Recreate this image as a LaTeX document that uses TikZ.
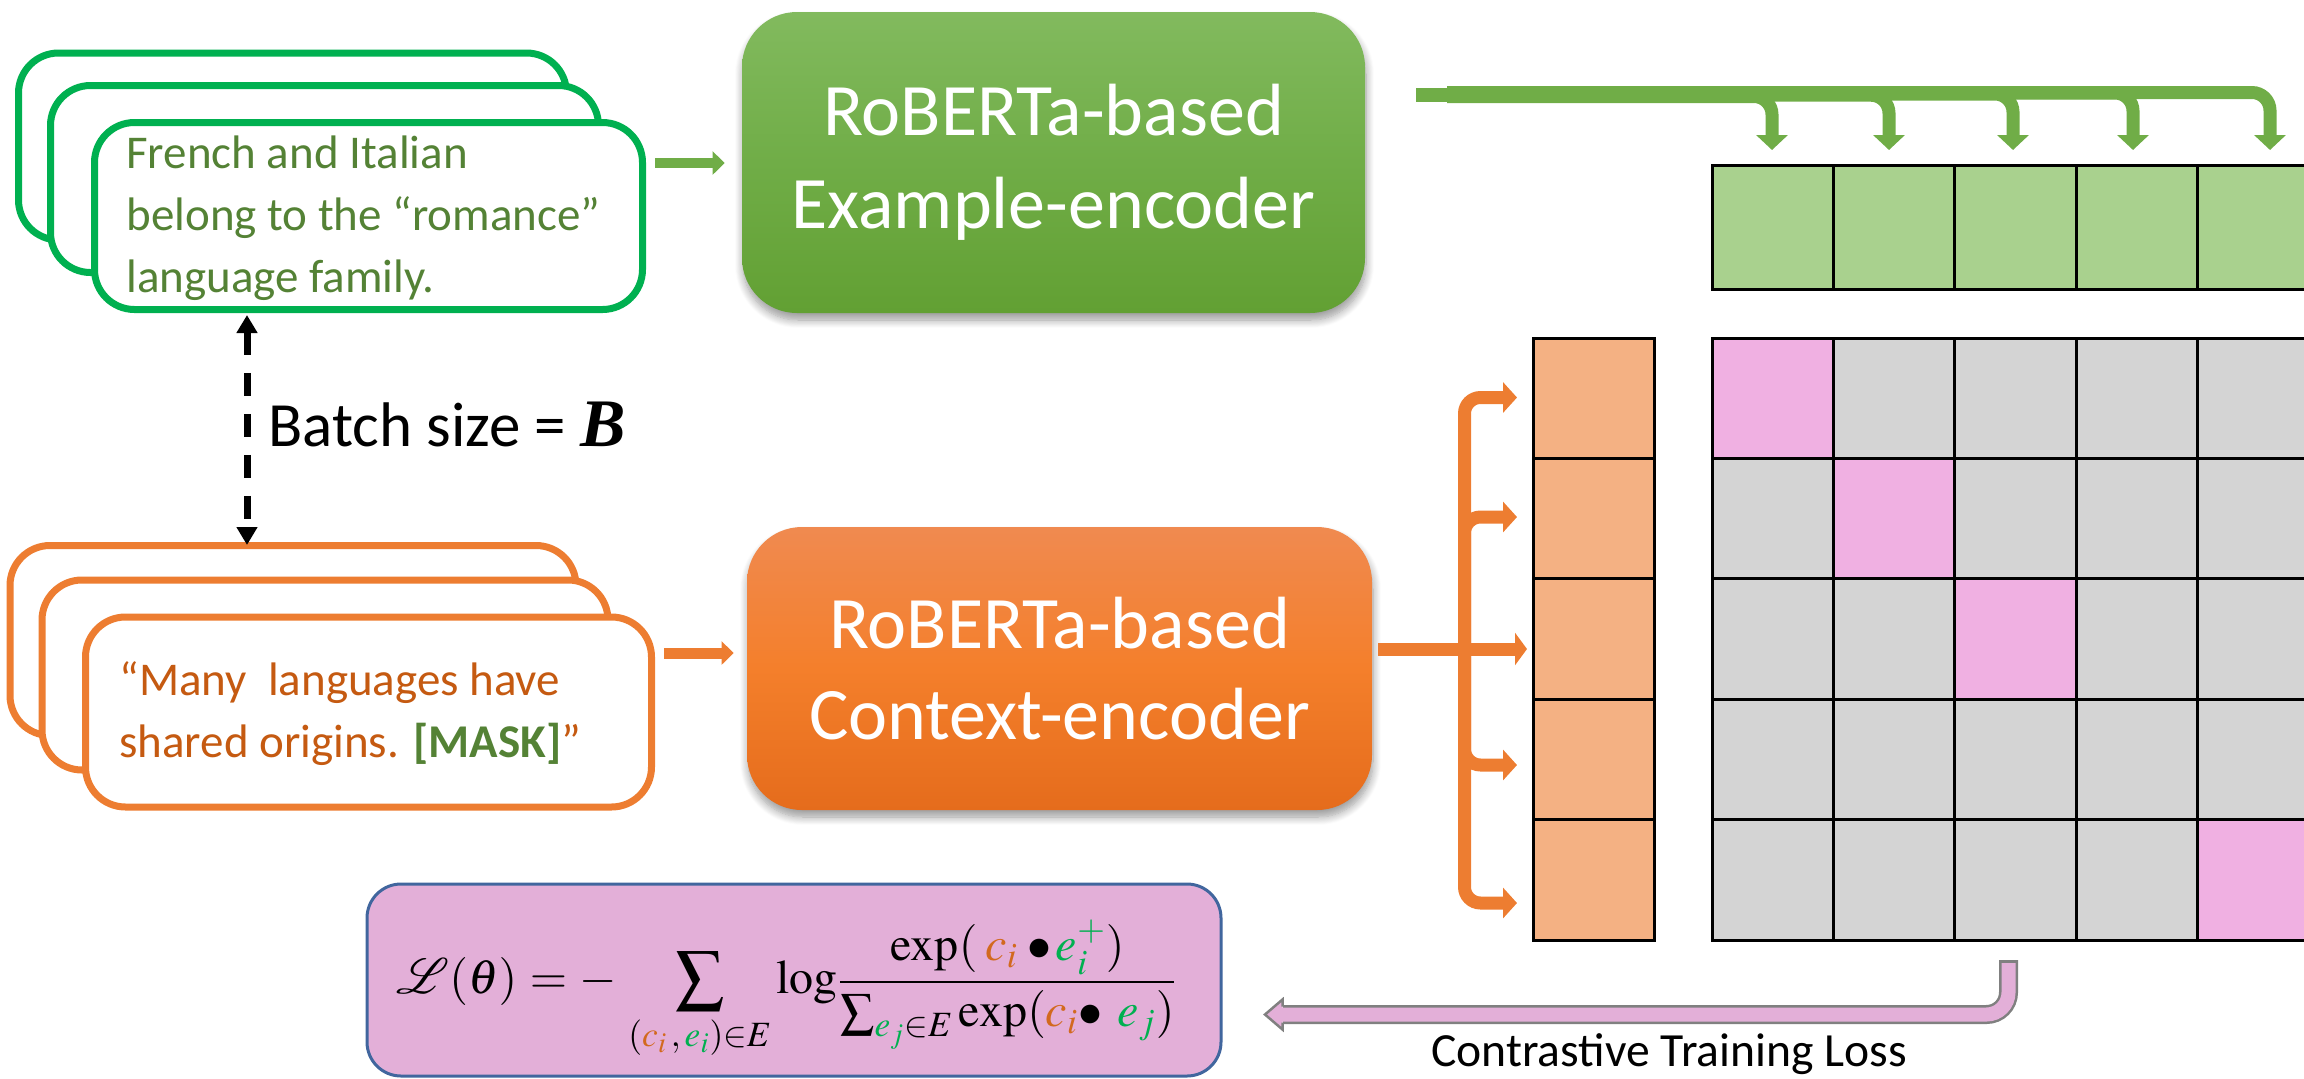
\documentclass[tikz,border=0pt]{standalone}
\usepackage{mathptmx}
\usepackage{mathrsfs}
\usepackage[no-math]{fontspec}
\setmainfont{Carlito}
\newfontfamily\timesfont{Liberation Serif}
\usetikzlibrary{arrows.meta,calc,shadows.blur}

\definecolor{gborder}{HTML}{00B050}
\definecolor{gtext}{HTML}{548235}
\definecolor{garrow}{HTML}{70AD47}
\definecolor{gcell}{HTML}{A9D18E}
\definecolor{oborder}{HTML}{ED7D31}
\definecolor{otext}{HTML}{C55A11}
\definecolor{ocell}{HTML}{F4B183}
\definecolor{pcell}{HTML}{F0B0E2}
\definecolor{graycell}{HTML}{D4D4D4}
\definecolor{lossfill}{HTML}{E3AFD8}
\definecolor{lossedge}{HTML}{41669E}
\definecolor{lossgray}{HTML}{808080}
\definecolor{ccol}{HTML}{D2691E}
\definecolor{ecol}{HTML}{00B050}
\definecolor{gtop}{HTML}{82BA5E}
\definecolor{gmid}{HTML}{70AD47}
\definecolor{gbot}{HTML}{62A033}
\definecolor{otop}{HTML}{F08A50}
\definecolor{omid}{HTML}{F47F2B}
\definecolor{obot}{HTML}{E56C1C}

\newcommand{\cc}[1]{{\color{ccol}#1}}
\newcommand{\ce}[1]{{\color{ecol}#1}}

\tikzset{
  stackg/.style={draw=gborder, line width=3.5pt, fill=white, rounded corners=20pt,
    minimum width=274pt, minimum height=93.5pt, inner sep=0pt},
  stacko/.style={draw=oborder, line width=3.5pt, fill=white, rounded corners=20pt,
    minimum width=283pt, minimum height=95pt, inner sep=0pt},
  boxtext/.style={align=left, inner sep=0pt, anchor=west,
    font=\fontsize{23.5}{31}\selectfont},
  encoder/.style={rounded corners=27.5pt, text=white, align=center, inner sep=0pt,
    font=\fontsize{37}{46.5}\selectfont,
    blur shadow={shadow xshift=0.5pt, shadow yshift=-3.5pt, shadow blur radius=4pt,
      shadow blur steps=10, shadow opacity=40}},
  cell/.style={draw=black, line width=1.5pt, inner sep=0pt, outer sep=0pt,
    minimum width=60.7pt, minimum height=60.2pt},
  feed/.style={line width=5pt, -{Triangle[length=6pt,width=11.5pt]}},
  gbranch/.style={draw=garrow, line width=6.5pt, rounded corners=9pt,
    -{Triangle[length=7.5pt,width=15.5pt]}},
  obranch/.style={draw=oborder, line width=6.5pt, rounded corners=8pt,
    -{Triangle[length=7pt,width=15pt]}},
  batcharrow/.style={line width=3.5pt, dash pattern=on 11.5pt off 9pt,
    {Triangle[length=9pt,width=10pt]}-{Triangle[length=9pt,width=10pt]}},
}

\begin{document}
\begin{tikzpicture}[x=0.5pt, y=-0.5pt]
\useasboundingbox (0,0) rectangle (2304,1078);
\clip (0,0) rectangle (2304,1078);

% ---------- example sentences (green stack) ----------
\node[stackg] (gback) at (292.5,146.5) {};
\node[stackg] (gmidbox) at (324.5,179) {};
\node[stackg] (gfront) at (368.5,216) {};
\node[boxtext, text=gtext] (gtxt) at (126,218)
  {French and Italian\\belong to the “romance”\\language family.};

% ---------- context sentences (orange stack) ----------
\node[stacko] (oback) at (293,640.5) {};
\node[stacko] (omidbox) at (325,675) {};
\node[stacko] (ofront) at (368.5,712) {};
\node[boxtext, text=otext] (otxt) at (119,713.5)
  {“Many~ languages have\\shared origins. {\bfseries\color{gtext}[MASK]}”};

% ---------- encoders ----------
\node[encoder, top color=gtop, bottom color=gbot, middle color=gmid,
  minimum width=311.5pt, minimum height=150.5pt] (genc) at (1053.5,162.5)
  {RoBERTa-based\\Example-encoder};
\node[encoder, top color=otop, bottom color=obot, middle color=omid,
  minimum width=312.5pt, minimum height=141.5pt, font=\fontsize{37}{45.5}\selectfont]
  (cenc) at (1059.5,668.5)
  {RoBERTa-based\\Context-encoder};

% sentence stacks feed the encoders
\draw[feed, draw=garrow] ([xshift=4.5pt]gfront.east |- 0,163) coordinate (gf1)
  -- ([xshift=-8.5pt]genc.west |- 0,163) coordinate (gf2);
\draw[feed, draw=oborder, line width=5.5pt] ([xshift=4.5pt]ofront.east |- 0,653) coordinate (of1)
  -- ([xshift=-6.5pt]cenc.west |- 0,653) coordinate (of2);

% ---------- batch size ----------
\coordinate (btop) at (247,315);
\coordinate (bbot) at (247,545);
\draw[batcharrow] (btop) -- (bbot);
\node[anchor=west, inner sep=0pt, font=\fontsize{31.5}{36}\selectfont] (batch) at (268,424)
  {Batch size = {\timesfont\bfseries\itshape\fontsize{34}{36}\selectfont B}};

% ---------- similarity matrix ----------
\foreach \c in {0,...,4}{
  \pgfmathsetmacro{\cx}{1712+121.4*\c+60.7}
  \node[cell, fill=gcell, minimum height=62pt] (g-\c) at (\cx,227) {};
}
\foreach \r in {0,...,4}{
  \pgfmathsetmacro{\cy}{338+120.4*\r+60.2}
  \node[cell, fill=ocell, minimum width=60.5pt] (o-\r) at (1593.5,\cy) {};
  \foreach \c in {0,...,4}{
    \pgfmathsetmacro{\cx}{1712+121.4*\c+60.7}
    \pgfmathtruncatemacro{\diag}{and(\r==\c,\r!=3)}
    \ifnum\diag=1 \def\cellcol{pcell}\else\def\cellcol{graycell}\fi
    \node[cell, fill=\cellcol] (m-\r-\c) at (\cx,\cy) {};
  }
}

% example embeddings fan out to the top row
\coordinate (gstart) at (1416,95);
\coordinate (gsplit) at (1448,95);
\draw[draw=garrow, line width=7pt] (gstart) -- (gsplit);
\foreach \bx/\dy in {2270/-2.5, 2133/-2, 2013/-1, 1889/0.2, 1772/1.5}
  \draw[gbranch] ($(gsplit)+(-1,\dy)$) -| (\bx,150);

% context embeddings fan out to the left column
\coordinate (osrc) at (1378,649);
\coordinate (osplit) at (1464.5,649);
\foreach \by in {397.5,517,765,903}
  \draw[obranch] (osplit) |- (1517,\by);
\draw[draw=oborder, line width=6.5pt, -{Triangle[length=6pt,width=16pt]}] (osrc) -- (1527,649);

% ---------- contrastive loss ----------
\node[draw=lossedge, line width=1.5pt, fill=lossfill, rounded corners=17pt,
  minimum width=427pt, minimum height=96pt, inner sep=0pt] (lossbox) at (794,980) {};
\node[inner sep=0pt, anchor=west, font=\fontsize{24}{28}\selectfont] (formula) at (396,990)
  {$\displaystyle \mathscr{L}(\theta)\mathrel{\hspace{1pt}=\hspace{1pt}}\mathord{-}\hspace{3pt}
   \sum_{(\cc{c_i}\,,\,\ce{e_i})\in E}\log\!
   \frac{\exp(\hspace{4pt}\cc{c_i}\hspace{1.5pt}\bullet\hspace{-1pt}\ce{e_i^{+}})}
        {\sum_{\ce{e_j}\in E}\exp(\cc{c_i}\hspace{-3pt}\bullet\hspace{4pt}\ce{e_j})}$};

\coordinate (lossA) at (2008.5,960);
\coordinate (lossB) at (1283,1014.5);
\coordinate (lossC) at (2008.5,963);
\coordinate (lossD) at (1278,1014.5);
\draw[draw=lossgray, line width=9.5pt, rounded corners=11pt] (lossA) |- (lossB);
\draw[draw=lossfill, line width=7pt, rounded corners=11pt] (lossC) |- (lossD);
\fill[lossfill] (1282.5,999.5) -- (1265,1014.5) -- (1282.5,1029.5) -- cycle;
\draw[draw=lossgray, line width=1.25pt, line join=miter]
  (1282.5,1006.5) -- (1282.5,999.5) -- (1265,1014.5) -- (1282.5,1029.5) -- (1282.5,1022.5);

\node[inner sep=0pt, font=\fontsize{23.8}{28}\selectfont] (losslabel) at (1669,1054)
  {Contrastive Training Loss};
\end{tikzpicture}
\end{document}
